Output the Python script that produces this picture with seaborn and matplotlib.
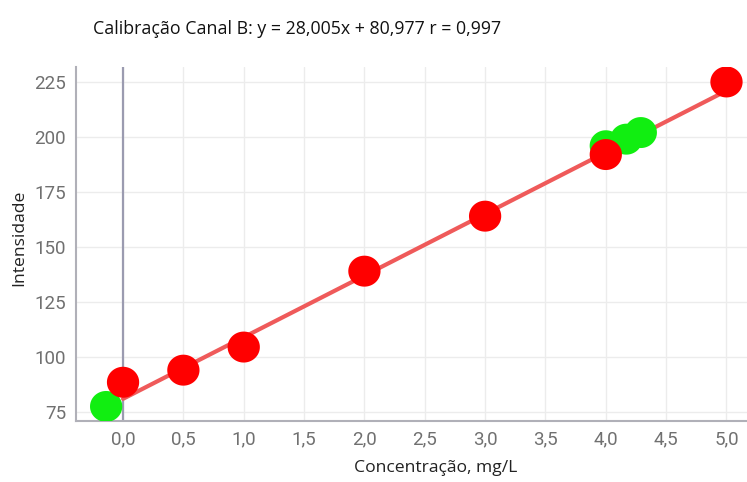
import numpy as np
import pandas as pd
import matplotlib
matplotlib.use("Agg")
import matplotlib.pyplot as plt
from matplotlib.path import Path
from matplotlib.ticker import FuncFormatter, MultipleLocator
import seaborn as sns

# Calibration standards (channel B)
conc_std = [0.0, 0.5, 1.0, 2.0, 3.0, 4.0, 5.0]
int_std = [88.5, 94.0, 104.5, 139.0, 164.0, 192.0, 225.0]

# Measured samples
conc_smp = [-0.14, 4.0, 4.17, 4.29]
int_smp = [77.5, 196.0, 199.0, 202.0]

# Fitted regression
slope = 28.005
intercept = 80.977
r_value = 0.997
fit_x = [0.0, 5.0]

sns.set_theme(style="white")
plt.rcParams["font.family"] = ["Open Sans", "DejaVu Sans"]

fig = plt.figure(figsize=(7.47, 4.82), dpi=100)
ax = fig.add_axes([0.1017, 0.1266, 0.8983, 0.7344])

# slightly wide elliptical dot marker
theta = np.linspace(0, 2 * np.pi, 64)
dot = Path(np.column_stack([np.cos(theta), 0.96 * np.sin(theta)]), closed=True)

fit_df = pd.DataFrame({"x": fit_x, "y": [slope * v + intercept for v in fit_x]})
sns.lineplot(data=fit_df, x="x", y="y", ax=ax, color="#ef5a5a", linewidth=3.0,
             zorder=2)

smp_df = pd.DataFrame({"x": conc_smp, "y": int_smp})
std_df = pd.DataFrame({"x": conc_std, "y": int_std})
sns.scatterplot(data=smp_df, x="x", y="y", ax=ax, color="#11ee11", s=540,
                marker=dot, edgecolor="none", zorder=3)
sns.scatterplot(data=std_df, x="x", y="y", ax=ax, color="#ff0000", s=540,
                marker=dot, edgecolor="none", zorder=4)

ax.axvline(0, color="#9b9bb0", linewidth=1.6, zorder=1)

ax.set_xlim(-0.39, 5.17)
ax.set_ylim(70.9, 231.8)
ax.xaxis.set_major_locator(MultipleLocator(0.5))
ax.yaxis.set_major_locator(MultipleLocator(25))
ax.xaxis.set_major_formatter(FuncFormatter(lambda v, p: f"{v:.1f}".replace(".", ",")))
ax.yaxis.set_major_formatter(FuncFormatter(lambda v, p: f"{v:.0f}"))

ax.grid(True, color="#ececec", linewidth=1.0)
ax.set_axisbelow(True)
for side in ["top", "right"]:
    ax.spines[side].set_visible(False)
for side in ["left", "bottom"]:
    ax.spines[side].set_color("#b0b0b8")
    ax.spines[side].set_linewidth(1.5)

ax.tick_params(axis="both", labelsize=13.5, colors="#707070", length=4,
               width=1, pad=4)
for lbl in ax.get_xticklabels() + ax.get_yticklabels():
    lbl.set_family(["Roboto", "DejaVu Sans"])
ax.tick_params(axis="x", length=0, pad=7)
ax.tick_params(axis="y", color="#b0b0b8", pad=3)

ax.set_xlabel("Concentração, mg/L", fontsize=12.6, color="#222222")
ax.set_ylabel("Intensidade", fontsize=12.6, color="#222222")
ax.xaxis.set_label_coords(0.536, -0.11)
ax.yaxis.set_label_coords(-0.073, 0.517)

fig.text(0.1245, 0.94,
         f"Calibração Canal B: y = {slope:.3f}x + {intercept:.3f} r = {r_value:.3f}".replace(".", ","),
         fontsize=12.75, color="#111111", ha="left", va="center")

fig.savefig("out.png", dpi=100)
